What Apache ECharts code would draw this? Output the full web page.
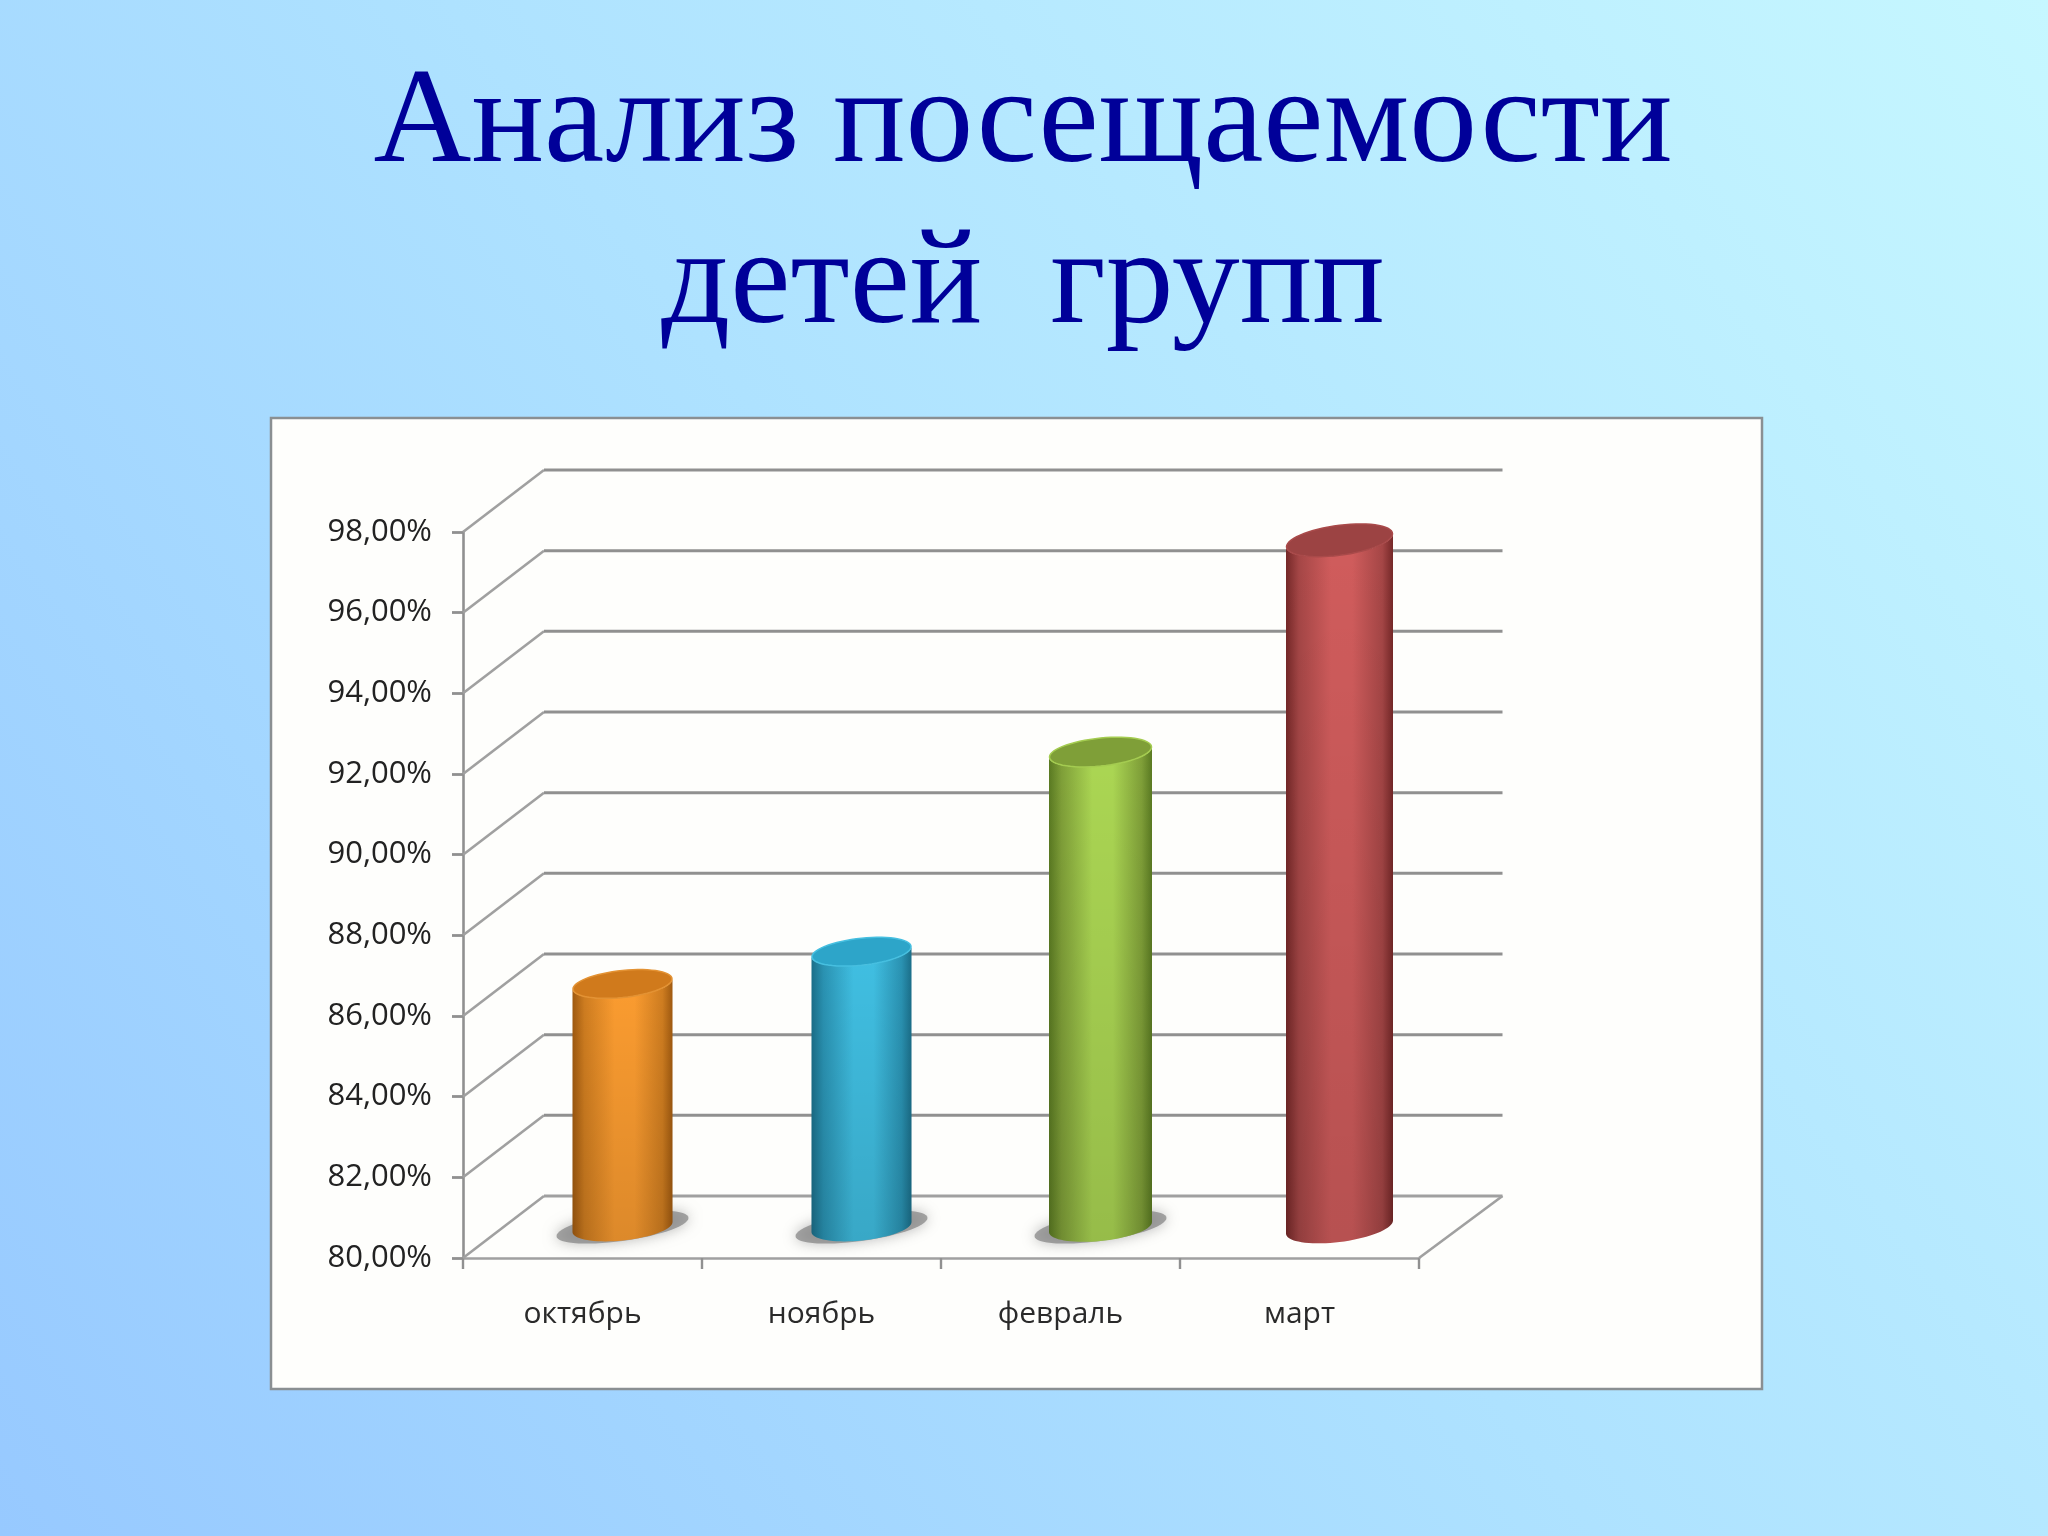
<!DOCTYPE html>
<html><head><meta charset="utf-8">
<style>html,body{margin:0;padding:0;background:#aee0ff}#c{width:2048px;height:1536px}</style>
<script src="https://cdn.jsdelivr.net/npm/echarts@6/dist/echarts.min.js"></script>
</head><body><div id="c"></div>
<script>
const titleText = 'Анализ посещаемости\nдетей  групп';
const categories = ['октябрь', 'ноябрь', 'февраль', 'март'];
const attendance = [86.05, 86.85, 91.8, 97.05];
const axisMin = 80, axisMax = 98, axisStep = 2;
const tickValues = [80, 82, 84, 86, 88, 90, 92, 94, 96, 98];

// styling only
const palette = [
  {edge:'#a05a10', side:'#cf7d20', mid:'#fb9c30', cap:'#d07a1c', rim:'#e39233'},
  {edge:'#1b6f8a', side:'#2a93b3', mid:'#40bfe2', cap:'#2da5c9', rim:'#46bfe0'},
  {edge:'#5a7a22', side:'#7f9f38', mid:'#abd653', cap:'#7f9f38', rim:'#a4cc50'},
  {edge:'#752828', side:'#a54646', mid:'#d05c5c', cap:'#9c4343', rim:'#a94a4a'}
];
const bodyW = [100, 100, 103, 107], capB = [13.5, 13.5, 14, 15], capS = [5, 5, 5, 6.5], hasShadow = [1, 1, 1, 0];
const GRID_LINE = '#909090', LIGHT_LINE = '#a0a0a0';
const DX = 81, DY = 62, DXR = 83.5;

function ellipsePts(cx, cy, a, b, s, t0, t1, n) {
  const p = [];
  for (let i = 0; i <= n; i++) {
    const t = t0 + (t1 - t0) * i / n;
    p.push([cx + a * Math.cos(t), cy + b * Math.sin(t) - s * Math.cos(t)]);
  }
  return p;
}

function renderGrid(params, api) {
  const v = api.value(1);
  const cs = params.coordSys;
  const y = api.coord([0, v])[1];
  const x0 = cs.x, x1 = cs.x + cs.width;
  const isFloor = v === axisMin;
  const children = [
    {type:'polyline', shape:{points:[[x0,y],[x0+DX,y-DY]]}, style:{fill:null, stroke:LIGHT_LINE, lineWidth:2.6}},
    {type:'polyline', shape:{points:[[x0+DX,y-DY],[x1+DXR,y-DY]]}, style:{fill:null, stroke:isFloor?LIGHT_LINE:GRID_LINE, lineWidth:3}}
  ];
  if (isFloor) children.push({type:'polyline', shape:{points:[[x1,y],[x1+DXR,y-DY]]}, style:{fill:null, stroke:LIGHT_LINE, lineWidth:2.6}});
  return {type:'group', children};
}

function renderBar(params, api) {
  const i = api.value(0), val = api.value(1);
  const cx = api.coord([i, val])[0] + 40;
  const yt = api.coord([i, val])[1] - 30;
  const yb = api.coord([i, axisMin])[1] - 31;
  const a = bodyW[i] / 2, b = capB[i], s = capS[i], c = palette[i];
  const front = ellipsePts(cx, yb, a, b, s, Math.PI, 0, 36);
  const topFront = ellipsePts(cx, yt, a, b, s, 0, Math.PI, 36);
  const body = front.concat(topFront);
  const children = [];
  if (hasShadow[i]) {
    children.push({type:'polygon', shape:{points:ellipsePts(cx, yb, 66, 14, 9, 0, 2*Math.PI, 60)},
      style:{fill:'rgba(130,130,130,0.7)', shadowBlur:14, shadowColor:'rgba(130,130,130,0.8)'}});
  }
  children.push({type:'polygon', shape:{points:body}, style:{fill:{type:'linear',x:0,y:0,x2:1,y2:0,colorStops:[
    {offset:0,color:c.edge},{offset:0.12,color:c.side},{offset:0.42,color:c.mid},{offset:0.62,color:c.mid},{offset:0.9,color:c.side},{offset:1,color:c.edge}]}}});
  children.push({type:'polygon', shape:{points:body}, style:{fill:{type:'linear',x:0,y:0,x2:0,y2:1,colorStops:[
    {offset:0,color:'rgba(0,0,0,0)'},{offset:1,color:'rgba(0,0,0,0.12)'}]}}});
  children.push({type:'polygon', shape:{points:ellipsePts(cx, yt, a-0.5, b, s, 0, 2*Math.PI, 60)},
    style:{fill:c.cap, stroke:c.rim, lineWidth:1.5}});
  return {type:'group', children};
}

const chart = echarts.init(document.getElementById('c'), null, {renderer:'canvas', width:2048, height:1536});
chart.setOption({
  animation:false,
  backgroundColor:{type:'linear',x:0,y:1,x2:1,y2:0,colorStops:[
    {offset:0,color:'#97c9ff'},{offset:0.5,color:'#aee2ff'},{offset:1,color:'#c6f7ff'}]},
  title:{text:titleText, left:1018, top:40, textAlign:'center',
    textStyle:{fontFamily:'"Liberation Serif"', fontSize:135.6, fontWeight:'normal', color:'#000099', lineHeight:161}},
  graphic:[{type:'rect', z:-10, shape:{x:271,y:418,width:1491,height:971},
    style:{fill:'#fefefc', stroke:'#8a8f92', lineWidth:2.5}}],
  grid:{left:463, top:532, width:956, height:726, containLabel:false},
  xAxis:{type:'category', data:categories, boundaryGap:true,
    axisLine:{lineStyle:{color:LIGHT_LINE,width:2.6}},
    axisTick:{show:true,length:11,inside:false,alignWithLabel:false,lineStyle:{color:GRID_LINE,width:2.4}},
    axisLabel:{margin:41,fontFamily:'"Open Sans"',fontSize:30,color:'#2a2a2a'}},
  yAxis:{type:'value', min:axisMin, max:axisMax, interval:axisStep,
    axisLine:{show:true,lineStyle:{color:GRID_LINE,width:2.6}},
    axisTick:{show:true,length:11,lineStyle:{color:GRID_LINE,width:2.8}},
    splitLine:{show:false},
    axisLabel:{margin:31,fontFamily:'"Open Sans"',fontSize:31,color:'#222',verticalAlign:'middle',lineHeight:36,padding:[6,0,0,0],
      formatter:v=>v.toFixed(2).replace('.',',')+'%'}},
  series:[
    {type:'custom', name:'grid', z:1, clip:false, silent:true, renderItem:renderGrid,
      data:tickValues.map(t=>[0,t])},
    {type:'custom', name:'Посещаемость', z:3, clip:false, renderItem:renderBar,
      data:attendance.map((v,i)=>[i,v])}
  ]
});
</script></body></html>
